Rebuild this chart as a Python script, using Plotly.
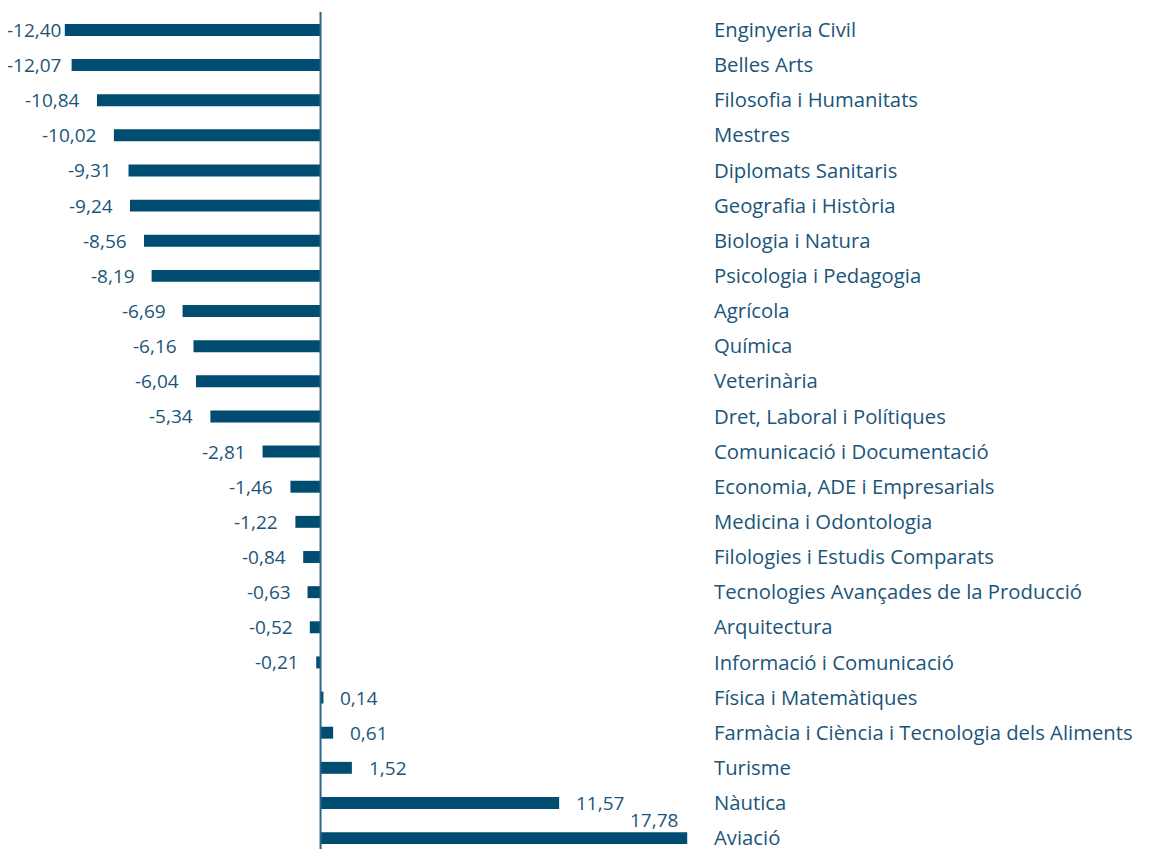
import plotly.graph_objects as go

categories = [
    "Enginyeria Civil", "Belles Arts", "Filosofia i Humanitats", "Mestres",
    "Diplomats Sanitaris", "Geografia i Història", "Biologia i Natura",
    "Psicologia i Pedagogia", "Agrícola", "Química", "Veterinària",
    "Dret, Laboral i Polítiques", "Comunicació i Documentació",
    "Economia, ADE i Empresarials", "Medicina i Odontologia",
    "Filologies i Estudis Comparats", "Tecnologies Avançades de la Producció",
    "Arquitectura", "Informació i Comunicació", "Física i Matemàtiques",
    "Farmàcia i Ciència i Tecnologia dels Aliments", "Turisme", "Nàutica",
    "Aviació",
]
values = [
    -12.40, -12.07, -10.84, -10.02, -9.31, -9.24, -8.56, -8.19, -6.69, -6.16,
    -6.04, -5.34, -2.81, -1.46, -1.22, -0.84, -0.63, -0.52, -0.21, 0.14,
    0.61, 1.52, 11.57, 17.78,
]

BAR_COLOR = "#004D71"
TEXT_COLOR = "#1B557A"
FONT = "Open Sans"
CAT_SIZE = 20.3
VAL_SIZE = 19

X_RANGE = [-12.633, 19.03]
PLOT_LEFT = 52      # px inside the figure
PLOT_RIGHT = 705
PPU = (PLOT_RIGHT - PLOT_LEFT) / (X_RANGE[1] - X_RANGE[0])
LABEL_W = 55        # approx. width of a "-12,40" label
GAP = 15

labels = [f"{v:.2f}".replace(".", ",") for v in values]

fig = go.Figure()

fig.add_trace(
    go.Bar(
        x=values,
        y=categories,
        orientation="h",
        width=0.34,
        marker=dict(color=BAR_COLOR, line=dict(width=0)),
        hoverinfo="x+y",
    )
)

# value labels, kept inside the figure on the left like the original
for i, (v, lab, cat) in enumerate(zip(values, labels, categories)):
    font = dict(family=FONT, size=VAL_SIZE, color=TEXT_COLOR)
    if i == len(values) - 1:
        # last label sits above the end of its bar
        fig.add_annotation(x=v, y=cat, text=lab, showarrow=False,
                           xanchor="right", yanchor="bottom",
                           xshift=-7, yshift=3, font=font)
    elif v < 0:
        bar_left = PLOT_LEFT + (v - X_RANGE[0]) * PPU
        gap = max(0, min(GAP, bar_left - LABEL_W - 1))
        fig.add_annotation(x=v, y=cat, text=lab, showarrow=False,
                           xanchor="right", xshift=-gap, font=font)
    else:
        fig.add_annotation(x=v, y=cat, text=lab, showarrow=False,
                           xanchor="left", xshift=GAP, font=font)

# zero line
fig.add_shape(type="line", x0=0, x1=0, y0=0, y1=1, xref="x", yref="paper",
              line=dict(color="#2A6488", width=2))

fig.update_layout(
    width=1142, height=843,
    margin=dict(l=PLOT_LEFT, r=1142 - PLOT_RIGHT, t=4, b=0),
    plot_bgcolor="white", paper_bgcolor="white",
    showlegend=False,
    xaxis=dict(range=X_RANGE, showgrid=False, zeroline=False,
               showticklabels=False, showline=False, fixedrange=True),
    yaxis=dict(range=[23.31, -0.51], side="right", showgrid=False,
               showline=False, ticks="", fixedrange=True,
               tickfont=dict(family=FONT, size=CAT_SIZE, color=TEXT_COLOR)),
)

fig.write_html("out.html")
